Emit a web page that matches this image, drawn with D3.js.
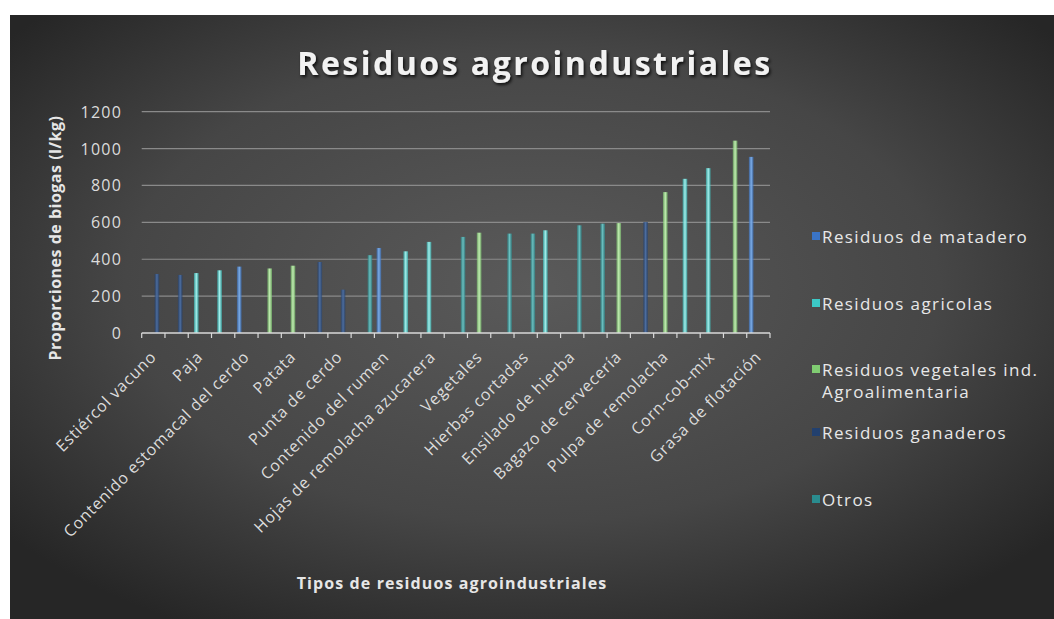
<!DOCTYPE html>
<html><head><meta charset="utf-8">
<script src="https://cdn.jsdelivr.net/npm/d3@7"></script>
<style>body{margin:0;background:#fff;}svg{display:block;}</style>
</head><body>
<script>
const title = "Residuos agroindustriales";
const yTitle = "Proporciones de biogas (l/kg)";
const xTitle = "Tipos de residuos agroindustriales";
// 27 categories; Excel shows every second label only
const categories = ["Estiércol vacuno","","Paja","","Contenido estomacal del cerdo","","Patata","","Punta de cerdo","","Contenido del rumen","","Hojas de remolacha azucarera","","Vegetales","","Hierbas cortadas","","Ensilado de hierba","","Bagazo de cervecería","","Pulpa de remolacha","","Corn-cob-mix","","Grasa de flotación"];
const series = ["Residuos de matadero","Residuos agricolas","Residuos vegetales ind. Agroalimentaria","Residuos ganaderos","Otros"];
const legendLines = [["Residuos de matadero"],["Residuos agricolas"],["Residuos vegetales ind.","Agroalimentaria"],["Residuos ganaderos"],["Otros"]];
// series index of the single bar in each category, and its value
const barSeries = [3,3,1,1,0,2,2,3,3,4,0,1,1,4,2,4,4,1,4,4,2,3,2,1,1,2,0];
const barValues = [320,315,325,340,360,350,365,385,235,422,461,443,494,521,544,539,539,557,584,593,596,602,764,836,894,1043,955];
const yTicks = [0,200,400,600,800,1000,1200];
const colors = ["#3a74c6","#3cc9c6","#80cc72","#22406e","#2a8c8f"];
const lightColors = ["#7fb0ea","#a6f1ee","#c4f0b4","#4d6fa3","#6cc3c3"];

const FONT = "'Open Sans', Lato, sans-serif";
const W = 1054, H = 619;
const svg = d3.select("body").append("svg").attr("width", W).attr("height", H);
const defs = svg.append("defs");
const bg = defs.append("radialGradient").attr("id","bg").attr("cx","50%").attr("cy","45%").attr("r","65%");
bg.append("stop").attr("offset","0%").attr("stop-color","#5a5a5a");
bg.append("stop").attr("offset","60%").attr("stop-color","#464646");
bg.append("stop").attr("offset","100%").attr("stop-color","#262626");
colors.forEach((c,i)=>{
  const g = defs.append("linearGradient").attr("id","bar"+i).attr("x1","0").attr("x2","1").attr("y1","0").attr("y2","0");
  g.append("stop").attr("offset","0%").attr("stop-color",c).attr("stop-opacity",0.6);
  g.append("stop").attr("offset","50%").attr("stop-color",lightColors[i]);
  g.append("stop").attr("offset","100%").attr("stop-color",c).attr("stop-opacity",0.6);
});
const sh = defs.append("filter").attr("id","shadow").attr("x","-10%").attr("y","-20%").attr("width","120%").attr("height","150%");
sh.append("feDropShadow").attr("dx",1.5).attr("dy",2).attr("stdDeviation",1.5).attr("flood-color","#000").attr("flood-opacity",0.8);

svg.append("rect").attr("x",10).attr("y",15).attr("width",W-10).attr("height",H-15).attr("fill","url(#bg)");

const pLeft = 141.7, pRight = 770, pTop = 111.7, pBottom = 333;
const x = d3.scaleBand().domain(d3.range(categories.length)).range([pLeft,pRight]).paddingInner(0).paddingOuter(0);
const bw = x.bandwidth();
const x1 = d3.scaleBand().domain(d3.range(series.length)).range([bw*0.115, bw*0.885]).padding(0);
const y = d3.scaleLinear().domain([0,1200]).range([pBottom,pTop]);
const barW = x1.bandwidth()*1.3;

// gridlines
svg.append("g").selectAll("line").data(yTicks.filter(d=>d>0)).join("line")
  .attr("x1",pLeft).attr("x2",pRight).attr("y1",d=>y(d)).attr("y2",d=>y(d))
  .attr("stroke","#8a8a8a").attr("stroke-width",1.2);

// y labels
svg.append("g").selectAll("text").data(yTicks).join("text")
  .attr("x",122).attr("y",d=>y(d)+6).attr("text-anchor","end")
  .attr("font-family",FONT).attr("font-size",16).attr("letter-spacing",1.2)
  .attr("fill","#dcdcdc").text(d=>d);

// bars
svg.append("g").selectAll("rect").data(barValues).join("rect")
  .attr("x",(d,i)=>x(i)+x1(barSeries[i])+x1.bandwidth()/2-barW/2)
  .attr("width",barW)
  .attr("y",d=>y(d)).attr("height",d=>pBottom-y(d))
  .attr("fill",(d,i)=>"url(#bar"+barSeries[i]+")");

// x axis
const xa = svg.append("g");
xa.append("line").attr("x1",pLeft).attr("x2",pRight).attr("y1",pBottom).attr("y2",pBottom).attr("stroke","#d9d9d9").attr("stroke-width",1.5);
const bounds = d3.range(categories.length).map(i=>x(i)).concat([pRight]);
xa.selectAll("line.t").data(bounds).join("line").attr("class","t")
  .attr("x1",d=>d).attr("x2",d=>d).attr("y1",pBottom).attr("y2",pBottom+5).attr("stroke","#d9d9d9").attr("stroke-width",1.2);
xa.selectAll("text").data(categories.map((c,i)=>({c,i})).filter(d=>d.c)).join("text")
  .attr("transform",d=>`translate(${x(d.i)+bw/2},${pBottom+21}) rotate(-45)`)
  .attr("text-anchor","end").attr("dy","0.35em")
  .attr("font-family",FONT).attr("font-size",16).attr("letter-spacing",0.8)
  .attr("fill","#dcdcdc").text(d=>d.c);

// titles
svg.append("text").attr("x",535).attr("y",75).attr("text-anchor","middle")
  .attr("font-family",FONT).attr("font-weight","bold").attr("font-size",32)
  .attr("letter-spacing",2.5).attr("fill","#f2f2f2").attr("filter","url(#shadow)").text(title);
svg.append("text").attr("transform","translate(61,238) rotate(-90)").attr("text-anchor","middle")
  .attr("font-family",FONT).attr("font-weight","bold").attr("font-size",16).attr("letter-spacing",0.5)
  .attr("fill","#e6e6e6").text(yTitle);
svg.append("text").attr("x",452).attr("y",589).attr("text-anchor","middle")
  .attr("font-family",FONT).attr("font-weight","bold").attr("font-size",16).attr("letter-spacing",1.1)
  .attr("fill","#e6e6e6").text(xTitle);

// legend
const legY = [237,304,370,433,500];
const lg = svg.append("g");
legendLines.forEach((lines,i)=>{
  lg.append("rect").attr("x",812).attr("y",legY[i]-5).attr("width",8).attr("height",8).attr("fill",colors[i]);
  lines.forEach((t,j)=>{
    lg.append("text").attr("x",822).attr("y",legY[i]+6+j*22)
      .attr("font-family",FONT).attr("font-size",17).attr("letter-spacing",1.4)
      .attr("fill","#e8e8e8").text(t);
  });
});
</script>
</body></html>
